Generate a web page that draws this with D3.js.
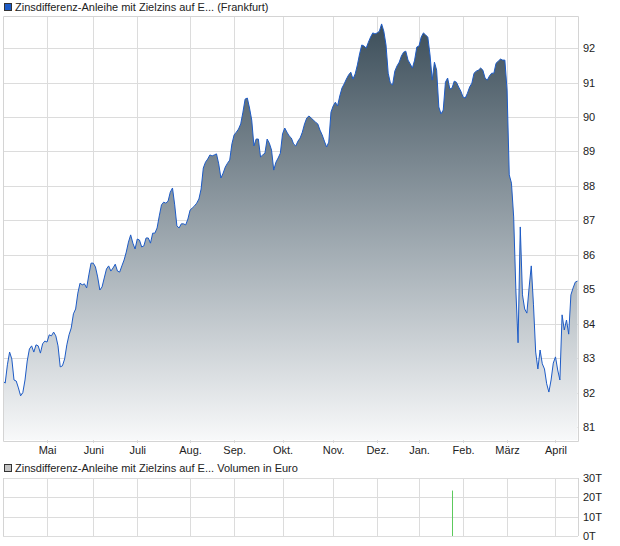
<!DOCTYPE html>
<html>
<head>
<meta charset="utf-8">
<script src="https://cdn.jsdelivr.net/npm/d3@7/dist/d3.min.js"></script>
<style>
  body { margin: 0; background: #fff; }
  text { font-family: "Liberation Sans", Arial, sans-serif; font-size: 11px; fill: #222; }
</style>
</head>
<body>
<svg id="chart" width="620" height="546"></svg>
<script>
// Daily closing prices (one per trading day).
const closes = [
  82.34, 82.28, 82.81, 83.18, 82.98, 82.37, 82.34, 82.14, 81.91, 82.00,
  82.37, 82.92, 83.27, 83.36, 83.18, 83.39, 83.36, 83.15, 83.42, 83.50,
  83.47, 83.68, 83.65, 83.76, 83.65, 83.36, 82.75, 82.78, 82.98, 83.39,
  83.68, 83.88, 84.29, 84.43, 84.89, 85.18, 85.13, 85.16, 85.04, 85.42,
  85.76, 85.76, 85.65, 85.36, 84.98, 85.07, 85.33, 85.59, 85.68, 85.53,
  85.62, 85.73, 85.53, 85.50, 85.68, 85.85, 86.08, 86.37, 86.58, 86.34,
  86.17, 86.46, 86.43, 86.23, 86.26, 86.49, 86.49, 86.34, 86.63, 86.63,
  86.78, 87.13, 87.45, 87.53, 87.50, 87.56, 87.82, 87.94, 87.45, 86.84,
  86.78, 86.90, 86.90, 86.87, 87.04, 87.30, 87.36, 87.42, 87.50, 87.62,
  87.91, 88.52, 88.69, 88.78, 88.90, 88.87, 88.90, 88.93, 88.64, 88.23,
  88.37, 88.55, 88.66, 88.75, 89.22, 89.48, 89.56, 89.65, 89.80, 90.14,
  90.52, 90.55, 90.26, 89.91, 89.16, 89.36, 89.36, 88.84, 88.90, 88.95,
  89.36, 89.24, 89.04, 88.46, 88.69, 88.81, 88.95, 89.51, 89.68, 89.56,
  89.45, 89.39, 89.22, 89.16, 89.30, 89.39, 89.56, 89.80, 89.97, 90.03,
  89.97, 89.91, 89.85, 89.80, 89.62, 89.48, 89.30, 89.13, 89.27, 90.14,
  90.32, 90.43, 90.32, 90.61, 90.84, 90.96, 91.10, 91.22, 91.30, 91.10,
  91.25, 91.51, 91.83, 92.09, 92.06, 92.00, 92.17, 92.32, 92.44, 92.41,
  92.44, 92.49, 92.70, 92.49, 92.09, 91.27, 90.98, 90.93, 91.33, 91.48,
  91.59, 91.77, 91.88, 91.91, 91.65, 91.54, 91.42, 91.65, 92.03, 92.06,
  92.32, 92.44, 92.38, 92.32, 91.80, 91.07, 91.59, 91.36, 90.29, 90.09,
  90.20, 91.01, 91.13, 90.81, 90.84, 91.04, 91.01, 90.87, 90.75, 90.58,
  90.55, 90.69, 90.87, 90.98, 91.27, 91.33, 91.36, 91.42, 91.36, 91.13,
  91.07, 91.19, 91.27, 91.27, 91.56, 91.62, 91.68, 91.65, 91.65, 90.78,
  88.32, 88.08, 87.10, 84.98, 83.45, 86.81, 84.84, 84.43, 84.31, 85.04,
  85.68, 84.55, 83.18, 82.69, 83.24, 82.84, 82.69, 82.26, 82.02, 82.37,
  82.86, 83.04, 82.66, 82.37, 84.26, 83.82, 84.11, 83.70, 84.84, 85.04,
  85.21, 85.24
];

// Month starts as trading-day index.
const monthLabels = ["Mai", "Juni", "Juli", "Aug.", "Sep.", "Okt.", "Nov.", "Dez.", "Jan.", "Feb.", "März", "April"];
const monthStarts = [20, 41, 61, 85, 105, 127, 150, 170, 189, 209, 229, 251];

const priceTicks = [81, 82, 83, 84, 85, 86, 87, 88, 89, 90, 91, 92];

// Volume: only one trading day had turnover.
const volumeDays = [204];
const volumeValues = [23500];
const volumeTicks = [0, 10000, 20000, 30000];

const svg = d3.select("#chart");

// ---------- price panel ----------
const plotLeft = 3, plotRight = 578, plotTop = 16, plotBottom = 441;

const x = d3.scaleLinear()
    .domain([0, closes.length - 1])
    .range([plotLeft, plotRight - 0.5]);

const y = d3.scaleLinear()
    .domain([80.6, 92.93])
    .range([plotBottom, plotTop]);

// Gradient for the area fill.
let defs = svg.append("defs");
let grad = defs.append("linearGradient")
    .attr("id", "fillGrad")
    .attr("gradientUnits", "userSpaceOnUse")
    .attr("x1", 0).attr("x2", 0)
    .attr("y1", plotTop).attr("y2", plotBottom);
grad.append("stop").attr("offset", "0%").attr("stop-color", "#394b57");
grad.append("stop").attr("offset", "55%").attr("stop-color", "#a2acb3");
grad.append("stop").attr("offset", "100%").attr("stop-color", "#f8f9fa");

// Grid lines.
svg.append("g")
    .selectAll("line")
    .data(priceTicks)
    .enter().append("line")
    .attr("x1", plotLeft).attr("x2", plotRight)
    .attr("y1", d => Math.round(y(d)) + 0.5)
    .attr("y2", d => Math.round(y(d)) + 0.5)
    .attr("stroke", "#dcdcdc");

svg.append("g")
    .selectAll("line")
    .data(monthStarts)
    .enter().append("line")
    .attr("x1", d => Math.round(x(d)) + 0.5)
    .attr("x2", d => Math.round(x(d)) + 0.5)
    .attr("y1", plotTop).attr("y2", plotBottom + 2)
    .attr("stroke", "#dcdcdc");

// Area + line.
svg.append("path")
    .datum(closes)
    .attr("fill", "url(#fillGrad)")
    .attr("d", d3.area()
        .x((d, i) => x(i))
        .y0(plotBottom - 1)
        .y1(d => y(d)));

svg.append("path")
    .datum(closes)
    .attr("fill", "none")
    .attr("stroke", "#1d5bc6")
    .attr("stroke-width", 1)
    .attr("stroke-linejoin", "round")
    .attr("d", d3.line()
        .x((d, i) => x(i))
        .y(d => y(d)));

// Frame.
svg.append("path")
    .attr("d", `M${plotLeft + 0.5},${plotTop + 0.5}H${plotRight + 0.5}V${plotBottom + 0.5}H${plotLeft + 0.5}Z`)
    .attr("fill", "none")
    .attr("stroke", "#d4d4d4");

// Right axis labels.
svg.append("g")
    .attr("transform", `translate(${plotRight + 3},0)`)
    .call(d3.axisRight(y).tickValues(priceTicks).tickSize(0).tickPadding(2).tickFormat(d3.format("d")))
    .call(g => g.select(".domain").remove())
    .selectAll("text").attr("fill", "#222");

// Month labels.
svg.append("g")
    .attr("transform", `translate(0,${plotBottom})`)
    .call(d3.axisBottom(x).tickValues(monthStarts).tickSize(0).tickPadding(5)
        .tickFormat((d, i) => monthLabels[i]))
    .call(g => g.select(".domain").remove())
    .selectAll("text").attr("fill", "#222");

// Legend.
svg.append("rect")
    .attr("x", 4.5).attr("y", 3.5).attr("width", 7).attr("height", 7)
    .attr("fill", "#1d5bc6").attr("stroke", "#333");
svg.append("text")
    .attr("x", 15).attr("y", 11)
    .text("Zinsdifferenz-Anleihe mit Zielzins auf E... (Frankfurt)");

// ---------- volume panel ----------
const volTop = 478, volBottom = 536;

const yv = d3.scaleLinear()
    .domain([0, 30000])
    .range([volBottom, volTop]);

svg.append("g")
    .selectAll("line")
    .data(volumeTicks)
    .enter().append("line")
    .attr("x1", plotLeft).attr("x2", plotRight)
    .attr("y1", d => Math.round(yv(d)) + 0.5)
    .attr("y2", d => Math.round(yv(d)) + 0.5)
    .attr("stroke", "#dcdcdc");

svg.append("g")
    .selectAll("line")
    .data(monthStarts)
    .enter().append("line")
    .attr("x1", d => Math.round(x(d)) + 0.5)
    .attr("x2", d => Math.round(x(d)) + 0.5)
    .attr("y1", volTop).attr("y2", volBottom)
    .attr("stroke", "#dcdcdc");

svg.append("line")
    .attr("x1", plotLeft + 0.5).attr("x2", plotLeft + 0.5)
    .attr("y1", volTop).attr("y2", volBottom)
    .attr("stroke", "#d4d4d4");
svg.append("line")
    .attr("x1", plotRight + 0.5).attr("x2", plotRight + 0.5)
    .attr("y1", volTop).attr("y2", volBottom)
    .attr("stroke", "#d4d4d4");

svg.append("g")
    .selectAll("line")
    .data(volumeDays)
    .enter().append("line")
    .attr("x1", d => Math.round(x(d)) + 0.5)
    .attr("x2", d => Math.round(x(d)) + 0.5)
    .attr("y1", volBottom)
    .attr("y2", (d, i) => yv(volumeValues[i]))
    .attr("stroke", "#5cc95c");

svg.append("g")
    .attr("transform", `translate(${plotRight + 3},0)`)
    .call(d3.axisRight(yv).tickValues(volumeTicks).tickSize(0).tickPadding(2)
        .tickFormat(d => (d / 1000) + "T"))
    .call(g => g.select(".domain").remove())
    .selectAll("text").attr("fill", "#222");

svg.append("rect")
    .attr("x", 4.5).attr("y", 464.5).attr("width", 7).attr("height", 7)
    .attr("fill", "#c4c4c4").attr("stroke", "#333");
svg.append("text")
    .attr("x", 15).attr("y", 472)
    .text("Zinsdifferenz-Anleihe mit Zielzins auf E... Volumen in Euro");
</script>
</body>
</html>
